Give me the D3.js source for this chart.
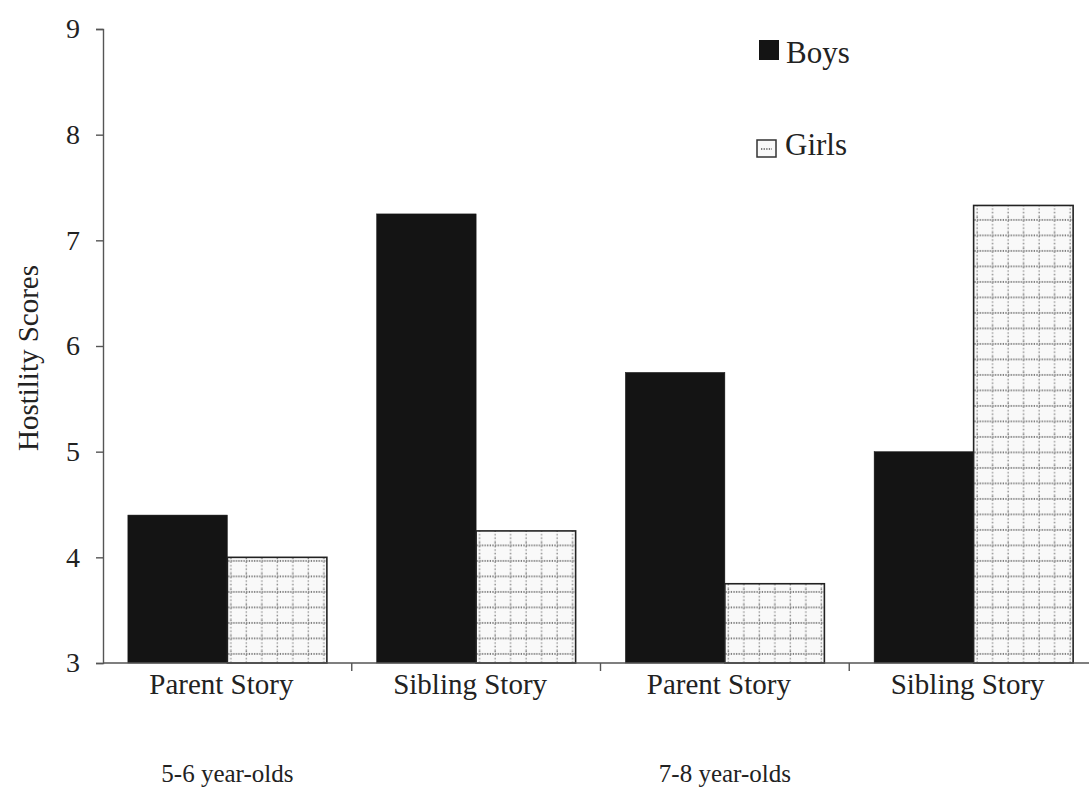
<!DOCTYPE html>
<html>
<head>
<meta charset="utf-8">
<script src="https://cdn.jsdelivr.net/npm/d3@7"></script>
<style>
  html, body { margin: 0; padding: 0; background: #fff; }
  svg { display: block; }
  text { font-family: "Liberation Serif", "Times New Roman", serif; fill: #222; }
</style>
</head>
<body>
<svg id="chart" width="1089" height="789"></svg>
<script>
// Hostility scores by story type, age group and gender
const categories = ["Parent Story", "Sibling Story", "Parent Story", "Sibling Story"];
const ageGroups = ["5-6 year-olds", "7-8 year-olds"];
const ageGroupCategory = [0, 2];
const series = ["Boys", "Girls"];
const boys = [4.4, 7.25, 5.75, 5.0];
const girls = [4.0, 4.25, 3.75, 7.33];
const yTicks = [3, 4, 5, 6, 7, 8, 9];

const svg = d3.select("#chart");
const plotLeft = 103, plotRight = 1098, plotTop = 29, plotBottom = 663;

const x0 = d3.scaleBand().domain(d3.range(categories.length)).range([plotLeft, plotRight])
  .paddingInner(0.2).paddingOuter(0.1);
const x1 = d3.scaleBand().domain(series).range([0, x0.bandwidth()]);
const y = d3.scaleLinear().domain([3, 9]).range([plotBottom, plotTop]);

// dotted grid fill for the Girls bars
const defs = svg.append("defs");
const pat = defs.append("pattern").attr("id", "grid")
  .attr("patternUnits", "userSpaceOnUse").attr("width", 15.5).attr("height", 15.5)
  .attr("x", 2).attr("y", 0);
pat.append("rect").attr("width", 15.5).attr("height", 15.5).attr("fill", "#f9f9f9");
pat.append("line").attr("x1", 0).attr("x2", 15.5).attr("y1", 3).attr("y2", 3)
  .attr("stroke", "#555").attr("stroke-width", 1.4).attr("stroke-dasharray", "1.3,1.3");
pat.append("line").attr("x1", 8).attr("x2", 8).attr("y1", 0).attr("y2", 15.5)
  .attr("stroke", "#777").attr("stroke-width", 1.3).attr("stroke-dasharray", "1.3,2.2");

const rows = categories.map((c, i) => ({ i, Boys: boys[i], Girls: girls[i] }));

const groups = svg.append("g").selectAll("g").data(rows).join("g")
  .attr("transform", d => `translate(${x0(d.i)},0)`);

groups.selectAll("rect").data(d => series.map(s => ({ s, v: d[s] }))).join("rect")
  .attr("x", d => x1(d.s))
  .attr("width", x1.bandwidth())
  .attr("y", d => y(d.v))
  .attr("height", d => y(3) - y(d.v))
  .attr("fill", d => d.s === "Boys" ? "#141414" : "url(#grid)")
  .attr("stroke", d => d.s === "Boys" ? "#141414" : "#222")
  .attr("stroke-width", d => d.s === "Boys" ? 0.5 : 1.6);

// y axis
const yAxis = svg.append("g").attr("transform", `translate(${plotLeft},0)`)
  .call(d3.axisLeft(y).tickValues(yTicks).tickSize(7).tickPadding(16).tickFormat(d3.format("d")));
yAxis.select(".domain").attr("stroke", "#555").attr("stroke-width", 1.4);
yAxis.selectAll(".tick line").attr("stroke", "#555").attr("stroke-width", 1.4);
yAxis.selectAll(".tick text").attr("font-size", 28).attr("fill", "#333")
  .style("font-family", "Liberation Serif");

// x axis: line along the baseline, ticks between categories
svg.append("line").attr("x1", plotLeft).attr("x2", 1089).attr("y1", plotBottom).attr("y2", plotBottom)
  .attr("stroke", "#555").attr("stroke-width", 1.4);
const bounds = d3.range(1, categories.length).map(i => x0(i) - x0.step() * x0.paddingInner() / 2);
svg.append("g").selectAll("line").data(bounds).join("line")
  .attr("x1", d => d).attr("x2", d => d).attr("y1", plotBottom).attr("y2", plotBottom + 8)
  .attr("stroke", "#555").attr("stroke-width", 1.4);

svg.append("g").selectAll("text").data(categories).join("text")
  .attr("x", (d, i) => x0(i) + x0.bandwidth() / 2 - 6)
  .attr("y", 694)
  .attr("text-anchor", "middle")
  .attr("font-size", 29)
  .text(d => d);

svg.append("g").selectAll("text").data(ageGroups).join("text")
  .attr("x", (d, i) => x0(ageGroupCategory[i]) + x0.bandwidth() / 2)
  .attr("y", 782)
  .attr("text-anchor", "middle")
  .attr("font-size", 25)
  .text(d => d);

// y axis title
svg.append("text")
  .attr("transform", "translate(38,358) rotate(-90)")
  .attr("text-anchor", "middle")
  .attr("font-size", 29)
  .text("Hostility Scores");

// legend
const legend = svg.append("g");
legend.append("rect").attr("x", 759).attr("y", 40).attr("width", 20).attr("height", 20)
  .attr("fill", "#141414");
legend.append("text").attr("x", 786).attr("y", 63).attr("font-size", 31).text("Boys");
legend.append("rect").attr("x", 757).attr("y", 140).attr("width", 19).attr("height", 17)
  .attr("fill", "#f9f9f9").attr("stroke", "#333").attr("stroke-width", 1.5);
legend.append("line").attr("x1", 761).attr("x2", 772).attr("y1", 149).attr("y2", 149)
  .attr("stroke", "#555").attr("stroke-width", 1.3).attr("stroke-dasharray", "1.3,1.3");
legend.append("text").attr("x", 785).attr("y", 155).attr("font-size", 31).text("Girls");
</script>
</body>
</html>
